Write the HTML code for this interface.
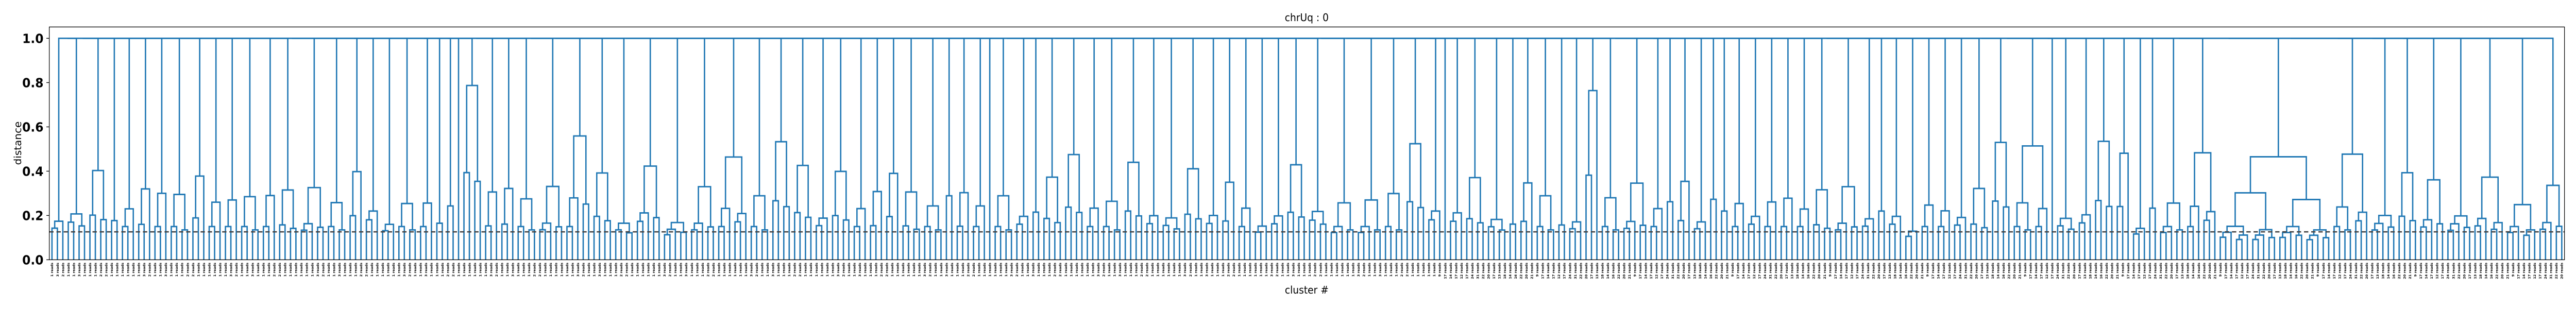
<!DOCTYPE html>
<html>
<head>
<meta charset="utf-8">
<style>
  html,body{margin:0;padding:0;background:#fff;overflow:hidden;width:100%;height:100%;}
  svg{display:block;width:100vw;height:100vh;font-family:"DejaVu Sans","Liberation Sans",sans-serif;}
</style>
</head>
<body>
<svg id="chart" viewBox="0 0 5364 600" preserveAspectRatio="none" xmlns="http://www.w3.org/2000/svg">
  <rect x="0" y="0" width="5364" height="600" fill="#fff"/>
  <text x="2721" y="41" font-size="20" text-anchor="middle" fill="#000">chrUq : 0</text>
  <text x="2721" y="570" font-size="20" text-anchor="middle" fill="#000">cluster #</text>
  <text transform="translate(44,278) rotate(-90)" font-size="20" text-anchor="middle" fill="#000">distance</text>
  <g id="yticks"></g>
  <g id="links"></g>
  <g id="leaflabels"></g>
  <line id="cutline" stroke="#444" stroke-width="2.6" stroke-dasharray="9,6"/>
  <rect x="102.6" y="52.4" width="5237.4" height="452" fill="none" stroke="#000" stroke-width="1.3"/>
</svg>
<script>
// ---- data ----
const groupSizes = [3,4,4,2,3,3,3,4,3,3, 3,4,3,4,5,4,3,3,3,4, 3,2,2,1,4,3,3,4,5,5,
  4,4,5,5,5,6,4,4,4,3, 4,3,3,3,4,4,2,3,3,1, 4,3,2,4,4,3,4,4,3,4,
  4,3,3,3,3,3,4,4,5,5, 4,4,3,1,3,4,4,2,3,4, 2,3,3,4,5,3,2,3,3,2,
  2,3,3,3,3,3,4,5,3,2, 3,3,3,3,3,4,4,7,1,4, 3,4,3,3,2,5,6,21,7,5,
  4,5,5,6,6,5];
const groupHeights = [0.174,0.207,0.403,0.177,0.23,0.32,0.30,0.295,0.378,0.26,
  0.27,0.285,0.29,0.315,0.326,0.258,0.398,0.22,0.16,0.254,
  0.256,0.165,0.243,0,0.787,0.306,0.322,0.275,0.331,0.559,
  0.392,0.165,0.423,0.168,0.33,0.464,0.289,0.533,0.426,0.188,
  0.399,0.231,0.308,0.39,0.306,0.243,0.289,0.303,0.243,0,
  0.289,0.196,0.215,0.373,0.475,0.233,0.264,0.44,0.199,0.189,
  0.411,0.2,0.35,0.233,0.152,0.198,0.429,0.218,0.257,0.27,
  0.299,0.524,0.22,0,0.212,0.371,0.182,0.161,0.347,0.289,
  0.157,0.171,0.764,0.28,0.346,0.231,0.262,0.354,0.171,0.273,
  0.22,0.254,0.196,0.261,0.278,0.229,0.316,0.33,0.185,0.22,
  0.196,0.129,0.247,0.221,0.191,0.322,0.53,0.514,0,0.187,
  0.203,0.535,0.481,0.142,0.233,0.256,0.483,0.465,0.477,0.2,
  0.393,0.361,0.198,0.373,0.249,0.336];
const rootHeight = 1.0;
const cutHeight = 0.126;
const yTickValues = [0,0.2,0.4,0.6,0.8,1.0];
const yTickLabels = ["0.0","0.2","0.4","0.6","0.8","1.0"];
const leafLabelCycle = ["1 reads","3 reads","2 reads","1 reads","1 reads","3 reads","1 reads","1 reads","1 reads","2 reads","2 reads","1 reads","1 reads","1 reads","1 reads","1 reads"];
const leafLabelCycleRight = ["16 reads","22 reads","20 reads","21 reads","9 reads","17 reads","14 reads","17 reads","12 reads","17 reads","24 reads","31 reads","22 reads","20 reads","17 reads","13 reads","18 reads","14 reads"];

// ---- scales ----
const X0 = 102.6, X1 = 5340, Y0 = 504.4, PXPERUNIT = 430;
const totalLeaves = groupSizes.reduce((a,b)=>a+b,0);
const step = (X1 - X0) / totalLeaves;
function xLeaf(i){ return X0 + step*(i+0.5); }
function yVal(v){ return Y0 - v*PXPERUNIT; }

const NS = "http://www.w3.org/2000/svg";
const links = document.getElementById('links');
const BLUE = "#1f77b4";

function link(xl, yl, xr, yr, h, color){
  const p = document.createElementNS(NS,'path');
  p.setAttribute('d', `M${xl},${yl}V${yVal(h)}H${xr}V${yr}`);
  p.setAttribute('fill','none');
  p.setAttribute('stroke', color);
  p.setAttribute('stroke-width','2.8');
  
  
  links.appendChild(p);
}

function subtree(lo, n, h){
  if(n === 1) return [xLeaf(lo), Y0];
  const a = Math.ceil(n/2), b = n - a;
  let ch;
  if(n >= 12) ch = h*0.65;
  else ch = h > 0.22 ? Math.max(0.15, h*0.5) : h*0.82;
  const L = subtree(lo, a, a>1 ? ch : 0);
  const R = subtree(lo+a, b, b>1 ? ch*0.9 : 0);
  link(L[0], L[1], R[0], R[1], h, BLUE);
  return [(L[0]+R[0])/2, yVal(h)];
}

let idx = 0;
const tops = [];
for(let g=0; g<groupSizes.length; g++){
  const n = groupSizes[g];
  const h = n === 1 ? 0 : groupHeights[g];
  tops.push(subtree(idx, n, h));
  idx += n;
}
let cur = tops[0];
for(let g=1; g<tops.length; g++){
  const nxt = tops[g];
  link(cur[0], cur[1], nxt[0], nxt[1], rootHeight, BLUE);
  cur = [(cur[0]+nxt[0])/2, yVal(rootHeight)];
}

const cl = document.getElementById('cutline');
cl.setAttribute('x1', X0); cl.setAttribute('x2', X1);
cl.setAttribute('y1', yVal(cutHeight)); cl.setAttribute('y2', yVal(cutHeight));

const yt = document.getElementById('yticks');
yTickValues.forEach((v,i)=>{
  const y = yVal(v);
  const t = document.createElementNS(NS,'line');
  t.setAttribute('x1', X0-6); t.setAttribute('x2', X0); t.setAttribute('y1', y); t.setAttribute('y2', y);
  t.setAttribute('stroke','#000'); t.setAttribute('stroke-width','1.3');
  
  
  yt.appendChild(t);
  const tx = document.createElementNS(NS,'text');
  tx.setAttribute('x', X0-12); tx.setAttribute('y', y+9);
  tx.setAttribute('text-anchor','end'); tx.setAttribute('font-size','25'); tx.setAttribute('font-weight','bold');
  tx.textContent = yTickLabels[i];
  
  
  yt.appendChild(tx);
});

const ll = document.getElementById('leaflabels');
for(let i=0;i<totalLeaves;i++){
  const x = xLeaf(i);
  const arr = i < totalLeaves*0.55 ? leafLabelCycle : leafLabelCycleRight;
  const t = document.createElementNS(NS,'text');
  t.setAttribute('transform', `translate(${x+2.5},${510}) rotate(-90)`);
  t.setAttribute('text-anchor','end');
  t.setAttribute('font-size','6.5');
  t.setAttribute('font-weight','bold');
  t.textContent = arr[i % arr.length];
  
  
  ll.appendChild(t);
}
</script>
</body>
</html>
